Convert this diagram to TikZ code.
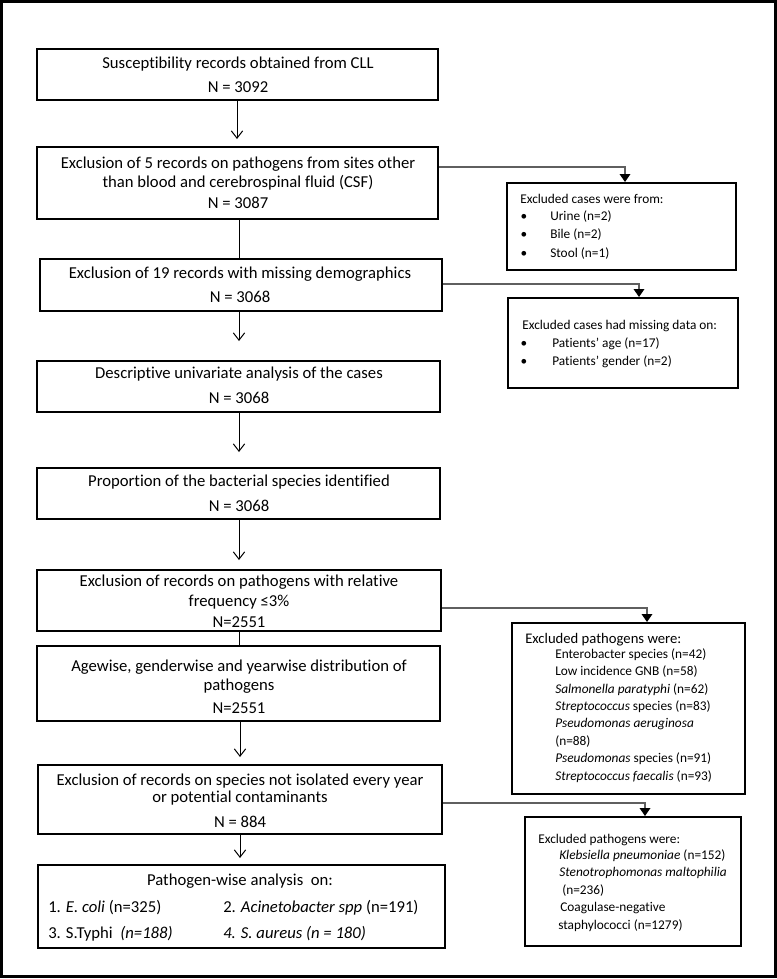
\documentclass[tikz,border=0pt]{standalone}
\usepackage{fontspec}
\setmainfont{Carlito}[Ligatures=NoCommon]
\usetikzlibrary{fit,arrows.meta,calc}
\definecolor{sidegray}{RGB}{95,95,95}
\tikzset{
  bx/.style={draw=black, line width=1.5pt, inner sep=0pt},
  frm/.style={draw=black, line width=1.8pt, inner sep=0pt},
  mt/.style={inner sep=0pt, font=\fontsize{12.5}{15}\selectfont, text height=8.05pt, text depth=0pt},
  st/.style={inner sep=0pt, anchor=west, font=\fontsize{10}{12.2}\selectfont, text height=6.44pt, text depth=0pt},
  sth/.style={st, font=\fontsize{11}{13.4}\selectfont, text height=7.08pt},
  bul/.style={inner sep=0pt, font=\fontsize{10}{12.2}\selectfont, text height=6.44pt, text depth=0pt},
  arr/.style={draw=black, line width=0.75pt, -{Straight Barb[length=5.5pt,width=8.5pt]}},
  pln/.style={draw=black, line width=0.75pt},
  side/.style={draw=sidegray, line width=1pt, -{Triangle[length=6pt,width=8pt,color=black]}},
}
\begin{document}
\begin{tikzpicture}[x=0.75pt,y=-0.75pt]
\useasboundingbox (0,0) rectangle (777,979);
\node[frm, fit={(1.5,1.5) (775.5,976.5)}] (frame) {};

% main boxes
\node[bx, fit={(37,49) (438,100)}] (b1) {};
\node[bx, fit={(37,147) (438,219)}] (b2) {};
\node[bx, fit={(40,259) (442,311)}] (b3) {};
\node[bx, fit={(37,361) (440,412)}] (b4) {};
\node[bx, fit={(37,468) (440,519)}] (b5) {};
\node[bx, fit={(37,570) (441,631)}] (b6) {};
\node[bx, fit={(37,646) (440,721)}] (b7) {};
\node[bx, fit={(38,765) (442,834)}] (b8) {};
\node[bx, fit={(38,865) (445,948)}] (b9) {};

% side boxes
\node[bx, fit={(507,183) (736,270)}] (r1) {};
\node[bx, fit={(508,298) (738,388)}] (r2) {};
\node[bx, fit={(512,623) (745,794)}] (r3) {};
\node[bx, fit={(525,817) (741,946)}] (r4) {};

% main texts
\node[mt] (t1a) at (238,63) {Susceptibility records obtained from CLL};
\node[mt] (t1b) at (238,87) {N = 3092};
\node[mt] (t2a) at (238,163) {Exclusion of 5 records on pathogens from sites other};
\node[mt] (t2b) at (238,182) {than blood and cerebrospinal fluid (CSF)};
\node[mt] (t2c) at (238,203) {N = 3087};
\node[mt] (t3a) at (240,273) {Exclusion of 19 records with missing demographics};
\node[mt] (t3b) at (240,297) {N = 3068};
\node[mt] (t4a) at (239,373) {Descriptive univariate analysis of the cases};
\node[mt] (t4b) at (239,398) {N = 3068};
\node[mt] (t5a) at (239,481) {Proportion of the bacterial species identified};
\node[mt] (t5b) at (239,506) {N = 3068};
\node[mt] (t6a) at (239,581) {Exclusion of records on pathogens with relative};
\node[mt] (t6b) at (239,601) {frequency ≤3\%};
\node[mt] (t6c) at (239,622) {N=2551};
\node[mt] (t7a) at (239,666) {Agewise, genderwise and yearwise distribution of};
\node[mt] (t7b) at (239,685) {pathogens};
\node[mt] (t7c) at (239,708) {N=2551};
\node[mt] (t8a) at (240,780) {Exclusion of records on species not isolated every year};
\node[mt] (t8b) at (240,797) {or potential contaminants};
\node[mt] (t8c) at (240,822) {N = 884};
\node[mt] (t9a) at (240,880) {Pathogen-wise analysis\ \ on:};
\node[mt, anchor=west] (t9b) at (48,907) {1. \textit{E. coli} (n=325)};
\node[mt, anchor=west] (t9c) at (223,907) {2. \textit{Acinetobacter spp} (n=191)};
\node[mt, anchor=west] (t9d) at (48,933) {3. S.Typhi\ \ \textit{(n=188)}};
\node[mt, anchor=west] (t9e) at (223,933) {\textit{4. S. aureus (n = 180)}};

% side texts
\node[st] (s1a) at (520,199) {Excluded cases were from:};
\node[bul] (s1p) at (524,216) {\textbullet};
\node[st] (s1b) at (550,216) {Urine (n=2)};
\node[bul] (s1q) at (524,234) {\textbullet};
\node[st] (s1c) at (550,234) {Bile (n=2)};
\node[bul] (s1r) at (524,253) {\textbullet};
\node[st] (s1d) at (550,253) {Stool (n=1)};

\node[st] (s2a) at (522,325) {Excluded cases had missing data on:};
\node[bul] (s2p) at (524,343) {\textbullet};
\node[st] (s2b) at (552,343) {Patients’ age (n=17)};
\node[bul] (s2q) at (524,361) {\textbullet};
\node[st] (s2c) at (552,361) {Patients’ gender (n=2)};

\node[sth] (s3a) at (525,639) {Excluded pathogens were:};
\node[st] (s3b) at (555,654) {Enterobacter species (n=42)};
\node[st] (s3c) at (555,671.4) {Low incidence GNB (n=58)};
\node[st] (s3d) at (555,688.8) {\textit{Salmonella paratyphi} (n=62)};
\node[st] (s3e) at (555,706.2) {\textit{Streptococcus} species (n=83)};
\node[st] (s3f) at (555,723.6) {\textit{Pseudomonas aeruginosa}};
\node[st] (s3g) at (555,741) {(n=88)};
\node[st] (s3h) at (555,758.4) {\textit{Pseudomonas} species (n=91)};
\node[st] (s3i) at (555,775.8) {\textit{Streptococcus faecalis} (n=93)};

\node[st] (s4a) at (538,839) {Excluded pathogens were:};
\node[st] (s4b) at (559,855) {\textit{Klebsiella pneumoniae} (n=152)};
\node[st] (s4c) at (559,872.5) {\textit{Stenotrophomonas maltophilia}};
\node[st] (s4d) at (562,890) {(n=236)};
\node[st] (s4e) at (560,907.5) {Coagulase-negative};
\node[st] (s4f) at (558,925) {staphylococci (n=1279)};

% main connectors
\draw[arr, shorten >=5.25pt] (b1.south -| 237,0) -- (b2.north -| 237,0);
\draw[pln] (b2.south -| 239,0) -- (b3.north -| 239,0);
\draw[arr, shorten >=14.25pt] (b3.south -| 239,0) -- (b4.north -| 239,0);
\draw[arr, shorten >=11.25pt] (b4.south -| 239,0) -- (b5.north -| 239,0);
\draw[arr, shorten >=6.75pt] (b5.south -| 239,0) -- (b6.north -| 239,0);
\draw[pln] (b6.south -| 239,0) -- (b7.north -| 239,0);
\draw[arr, shorten >=5.25pt] (b7.south -| 240,0) -- (b8.north -| 240,0);
\draw[arr, shorten >=4.5pt] (b8.south -| 240,0) -- (b9.north -| 240,0);

% side connectors
\draw[side] (b2.east |- 0,167) -| (r1.north -| 625,0);
\draw[side] (b3.east |- 0,284) -| (r2.north -| 639,0);
\draw[side] (b6.east |- 0,608) -| (r3.north -| 647,0);
\draw[side] (b8.east |- 0,803) -| (r4.north -| 645,0);
\end{tikzpicture}
\end{document}
